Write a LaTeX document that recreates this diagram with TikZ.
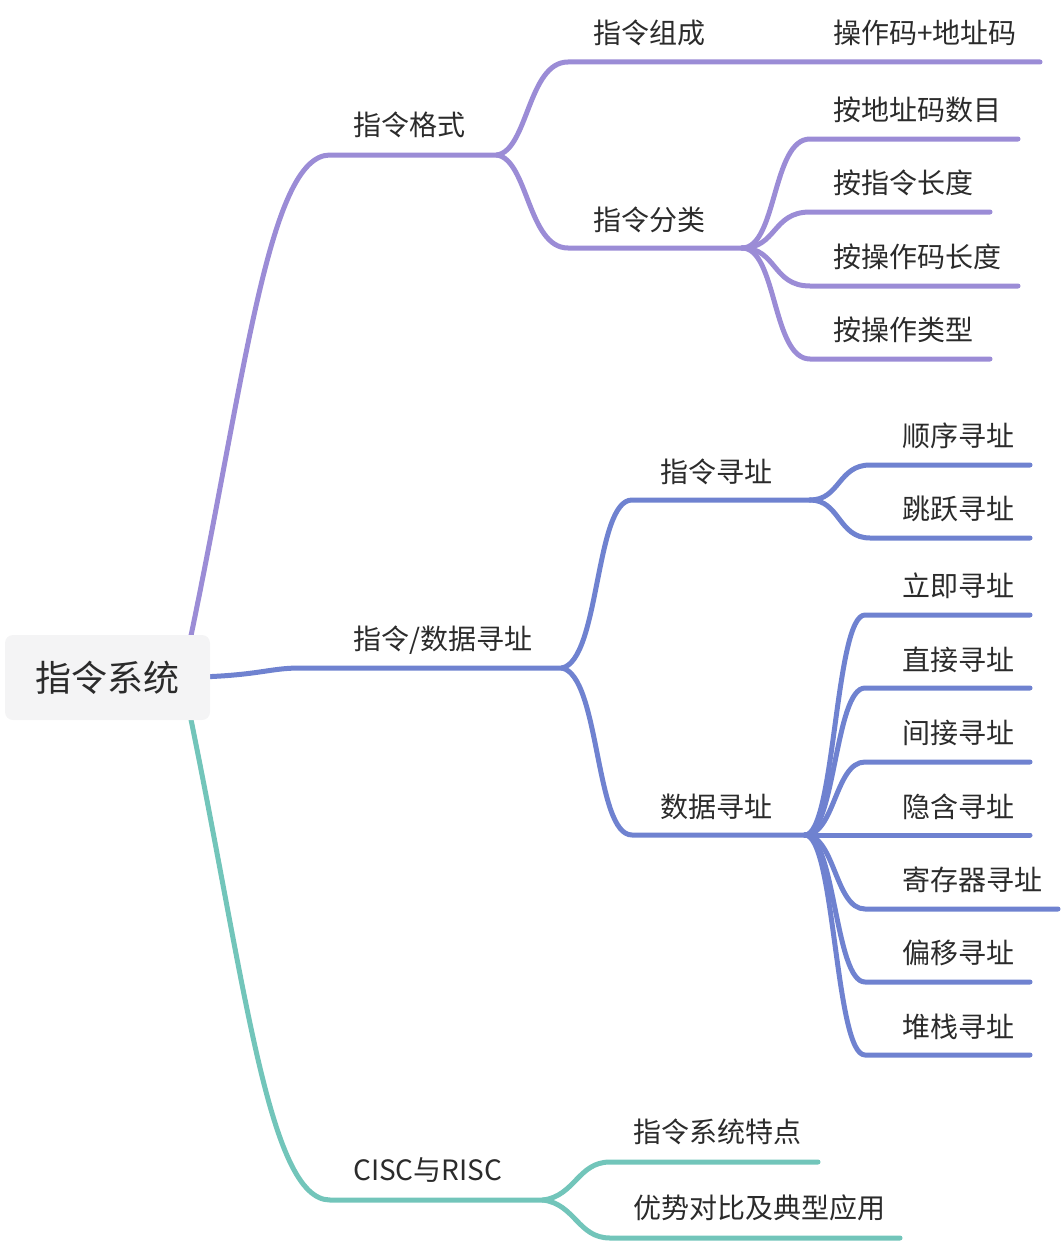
\documentclass[tikz,border=0pt]{standalone}
\usepackage{fontspec}
\setmainfont{Noto Sans CJK SC}
\definecolor{cpur}{HTML}{9B8CD6}
\definecolor{cblu}{HTML}{6F82D0}
\definecolor{ctea}{HTML}{72C5BA}
\definecolor{ctxt}{HTML}{2B2B2B}
\definecolor{crootbg}{HTML}{F4F4F5}
\tikzset{
  branch/.style={line width=5pt, line cap=round, line join=round},
  lbl/.style={anchor=west, inner sep=0pt, text=ctxt, font=\fontsize{28}{31}\selectfont},
  rootbox/.style={fill=crootbg, rounded corners=8pt, minimum width=205pt, minimum height=85pt, inner sep=0pt, text=ctxt, font=\fontsize{36}{40}\selectfont},
}
\begin{document}
\begin{tikzpicture}[x=1pt,y=-1pt]
\useasboundingbox (0,0) rectangle (1062,1244);

% ---------- coordinates ----------
\coordinate (rP) at (188,650);
\coordinate (rB) at (200,677);
\coordinate (rT) at (188,705);

% purple
\coordinate (fmtS) at (330,155);  \coordinate (fmtE) at (497,155);
\coordinate (zcS) at (568,62);    \coordinate (zcE) at (1040,62);
\coordinate (flS) at (568,248);   \coordinate (flE) at (742,248);
\coordinate (f1S) at (810,139);   \coordinate (f1E) at (1018,139);
\coordinate (f2S) at (810,212);   \coordinate (f2E) at (990,212);
\coordinate (f3S) at (810,286);   \coordinate (f3E) at (1018,286);
\coordinate (f4S) at (810,359);   \coordinate (f4E) at (990,359);

% blue
\coordinate (adS) at (300,668);   \coordinate (adE) at (562,668);
\coordinate (iaS) at (632,500);   \coordinate (iaE) at (810,500);
\coordinate (daS) at (632,835);   \coordinate (daE) at (805,835);
\coordinate (i1S) at (870,465);   \coordinate (i1E) at (1030,465);
\coordinate (i2S) at (870,538);   \coordinate (i2E) at (1030,538);
\coordinate (d1S) at (865,615);   \coordinate (d1E) at (1030,615);
\coordinate (d2S) at (865,688);   \coordinate (d2E) at (1030,688);
\coordinate (d3S) at (865,762);   \coordinate (d3E) at (1030,762);
\coordinate (d4S) at (865,835);   \coordinate (d4E) at (1030,835);
\coordinate (d5S) at (865,909);   \coordinate (d5E) at (1058,909);
\coordinate (d6S) at (865,982);   \coordinate (d6E) at (1030,982);
\coordinate (d7S) at (865,1055);  \coordinate (d7E) at (1030,1055);

% teal
\coordinate (ccS) at (330,1200);  \coordinate (ccE) at (543,1200);
\coordinate (c1S) at (610,1162);  \coordinate (c1E) at (818,1162);
\coordinate (c2S) at (610,1238);  \coordinate (c2E) at (900,1238);

% ---------- purple branch ----------
\begin{scope}[draw=cpur]
\draw[branch] (rP) .. controls (245,380) and (268,155) .. (fmtS) -- (fmtE);
\draw[branch] (fmtE) .. controls (528,150) and (528,62) .. (zcS) -- (zcE);
\draw[branch] (fmtE) .. controls (528,160) and (528,248) .. (flS) -- (flE);
\foreach \c in {f1,f2,f3,f4}{
  \draw[branch] (flE) .. controls +(35,0) and +(-38,0) .. (\c S) -- (\c E);
}
\end{scope}

% ---------- blue branch ----------
\begin{scope}[draw=cblu]
\draw[branch] (rB) .. controls (260,675) and (270,668) .. (adS) -- (adE);
\draw[branch] (adE) .. controls (600,660) and (595,500) .. (iaS) -- (iaE);
\draw[branch] (adE) .. controls (600,676) and (595,835) .. (daS) -- (daE);
\foreach \c in {i1,i2}{
  \draw[branch] (iaE) .. controls +(30,0) and +(-32,0) .. (\c S) -- (\c E);
}
\foreach \c in {d1,d2,d3,d4,d5,d6,d7}{
  \draw[branch] (daE) .. controls +(30,0) and +(-30,0) .. (\c S) -- (\c E);
}
\end{scope}

% ---------- teal branch ----------
\begin{scope}[draw=ctea]
\draw[branch] (rT) .. controls (245,980) and (268,1200) .. (ccS) -- (ccE);
\draw[branch] (ccE) .. controls (575,1196) and (578,1162) .. (c1S) -- (c1E);
\draw[branch] (ccE) .. controls (575,1204) and (578,1238) .. (c2S) -- (c2E);
\end{scope}

% ---------- root ----------
\node[rootbox] (root) at (107.5,677.5) {指令系统};

% ---------- labels ----------
\node[lbl] (tfmt) at (353,125) {指令格式};
\node[lbl] (tzc)  at (593,33)  {指令组成};
\node[lbl] (tzcv) at (833,33)  {操作码+地址码};
\node[lbl] (tfl)  at (593,220) {指令分类};
\node[lbl] (tf1)  at (833,110) {按地址码数目};
\node[lbl] (tf2)  at (833,183) {按指令长度};
\node[lbl] (tf3)  at (833,257) {按操作码长度};
\node[lbl] (tf4)  at (833,330) {按操作类型};

\node[lbl] (tad)  at (353,640) {指令/数据寻址};
\node[lbl] (tia)  at (660,472) {指令寻址};
\node[lbl] (ti1)  at (902,436) {顺序寻址};
\node[lbl] (ti2)  at (902,509) {跳跃寻址};
\node[lbl] (tda)  at (660,807) {数据寻址};
\node[lbl] (td1)  at (902,586) {立即寻址};
\node[lbl] (td2)  at (902,660) {直接寻址};
\node[lbl] (td3)  at (902,733) {间接寻址};
\node[lbl] (td4)  at (902,807) {隐含寻址};
\node[lbl] (td5)  at (902,880) {寄存器寻址};
\node[lbl] (td6)  at (902,953) {偏移寻址};
\node[lbl] (td7)  at (902,1027) {堆栈寻址};

\node[lbl] (tcc)  at (353,1170) {CISC与RISC};
\node[lbl] (tc1)  at (633,1132) {指令系统特点};
\node[lbl] (tc2)  at (633,1208) {优势对比及典型应用};
\end{tikzpicture}
\end{document}
